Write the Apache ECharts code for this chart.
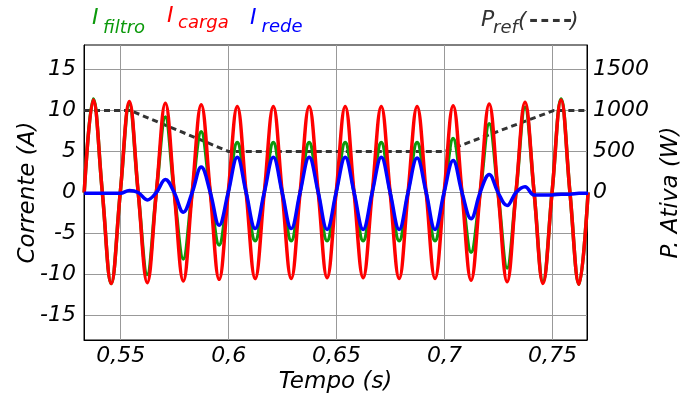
<!DOCTYPE html>
<html>
<head>
<meta charset="utf-8">
<script src="https://cdn.jsdelivr.net/npm/echarts@6/dist/echarts.min.js"></script>
<style>
html, body { margin: 0; padding: 0; background: #fff; }
#chart { width: 683px; height: 394px; }
</style>
</head>
<body>
<div id="chart"></div>
<script>
// instantes (picos, vales e cruzamentos por zero)
const tempo = [
    0.5331, 0.5373, 0.5415, 0.5456, 0.5498, 0.5540, 0.5581, 0.5623, 0.5665, 0.5707,
    0.5748, 0.5790, 0.5831, 0.5873, 0.5915, 0.5956, 0.5998, 0.6040, 0.6081, 0.6123,
    0.6165, 0.6207, 0.6248, 0.6290, 0.6331, 0.6373, 0.6415, 0.6456, 0.6498, 0.6540,
    0.6581, 0.6623, 0.6665, 0.6707, 0.6748, 0.6790, 0.6831, 0.6873, 0.6915, 0.6956,
    0.6998, 0.7040, 0.7081, 0.7123, 0.7165, 0.7207, 0.7248, 0.7290, 0.7331, 0.7373,
    0.7415, 0.7456, 0.7498, 0.7540, 0.7581, 0.7623, 0.7665
];

const iCarga = [
    0, 11.3, 0, -11.1, 0, 11.1, 0, -11.0, 0, 10.9,
    0, -10.8, 0, 10.7, 0, -10.6, 0, 10.5, 0, -10.5,
    0, 10.5, 0, -10.5, 0, 10.5, 0, -10.4, 0, 10.5,
    0, -10.4, 0, 10.5, 0, -10.5, 0, 10.5, 0, -10.5,
    0, 10.6, 0, -10.7, 0, 10.8, 0, -10.9, 0, 11.0,
    0, -11.1, 0, 11.3, 0, -11.2, 0
];

const iFiltro = [
    0, 11.4, 0, -11.1, 0, 10.8, 0, -10.0, 0, 9.2,
    0, -8.1, 0, 7.4, 0, -6.4, 0, 6.1, 0, -5.9,
    0, 6.1, 0, -5.9, 0, 6.1, 0, -5.9, 0, 6.1,
    0, -5.9, 0, 6.1, 0, -5.9, 0, 6.1, 0, -5.9,
    0, 6.6, 0, -7.3, 0, 8.4, 0, -9.2, 0, 10.4,
    0, -10.9, 0, 11.4, 0, -11.2, 0
];

const iRede = [
    -0.1, -0.1, -0.1, -0.1, -0.1, 0.25, 0, -0.9, 0, 1.6,
    0, -2.4, 0, 3.1, 0, -4.0, 0, 4.3, 0, -4.4,
    0, 4.3, 0, -4.4, 0, 4.3, 0, -4.5, 0, 4.3,
    0, -4.5, 0, 4.3, 0, -4.5, 0, 4.2, 0, -4.5,
    0, 3.9, 0, -3.2, 0, 2.2, 0, -1.6, 0, 0.7,
    -0.3, -0.3, -0.3, -0.2, -0.2, -0.1, -0.1
];

// potência de referência (eixo da direita)
const tempoPref = [0.533, 0.5545, 0.6, 0.7, 0.7505, 0.766];
const pRef = [1000, 1000, 500, 500, 1000, 1000];

const xTicks = [0.55, 0.6, 0.65, 0.7, 0.75];
const yTicks = [-15, -10, -5, 0, 5, 10, 15];
const y2Ticks = [0, 500, 1000, 1500];

const FONT = 'DejaVu Sans';
const VERDE = '#0c9a0c';
const VERMELHO = '#ff0000';
const AZUL = '#0000ff';
const CINZA = '#333333';

const pares = (xs, ys) => xs.map((x, i) => [x, ys[i]]);

const labelStyle = {
    color: '#000',
    fontFamily: FONT,
    fontStyle: 'italic',
    fontSize: 22
};

const nameStyle = {
    color: '#000',
    fontFamily: FONT,
    fontStyle: 'italic',
    fontSize: 23
};

const linha = (nome, dados, cor) => ({
    name: nome,
    type: 'line',
    data: dados,
    showSymbol: false,
    smooth: 0.4,
    lineStyle: { color: cor, width: 3.5 },
    itemStyle: { color: cor },
    silent: true
});

// textos da legenda (sem ícones, com subscritos)
const txt = (text, x, y, size, cor, bold) => ({
    type: 'text',
    silent: true,
    style: {
        text: text,
        x: x,
        y: y,
        fill: cor,
        fontFamily: FONT,
        fontStyle: bold ? 'normal' : 'italic',
        fontWeight: bold ? 'bold' : 'normal',
        fontSize: size,
        verticalAlign: 'middle',
        align: 'left'
    }
});

const chart = echarts.init(document.getElementById('chart'), null, { renderer: 'canvas' });

const option = {
    backgroundColor: '#fff',
    animation: false,
    grid: {
        left: 84,
        right: 96,
        top: 45,
        bottom: 54,
        show: true,
        borderColor: '#000',
        borderWidth: 1,
        outerBoundsMode: 'none'
    },
    xAxis: {
        type: 'value',
        min: 0.533,
        max: 0.766,
        name: 'Tempo (s)',
        nameLocation: 'middle',
        nameGap: 31,
        nameTextStyle: nameStyle,
        nameMoveOverlap: false,
        axisLine: { show: true, onZero: false, lineStyle: { color: '#000', width: 1 } },
        axisTick: { show: false, customValues: xTicks },
        axisLabel: {
            ...labelStyle,
            margin: 5,
            customValues: xTicks,
            formatter: v => String(v).replace('.', ',')
        },
        splitLine: { show: true, lineStyle: { color: '#999', width: 1 } }
    },
    yAxis: [
        {
            type: 'value',
            min: -18,
            max: 18,
            name: 'Corrente (A)',
            nameLocation: 'middle',
            nameRotate: 90,
            nameGap: 44,
            nameTextStyle: nameStyle,
            nameMoveOverlap: false,
            axisLine: { show: true, onZero: false, lineStyle: { color: '#000', width: 1 } },
            axisTick: { show: false, customValues: yTicks },
            axisLabel: { ...labelStyle, margin: 8, customValues: yTicks, formatter: v => String(v) },
            splitLine: { show: true, lineStyle: { color: '#999', width: 1 } }
        },
        {
            type: 'value',
            min: -1800,
            max: 1800,
            position: 'right',
            name: 'P. Ativa (W)',
            nameLocation: 'middle',
            nameRotate: 90,
            nameGap: 73,
            nameTextStyle: nameStyle,
            nameMoveOverlap: false,
            axisLine: { show: true, onZero: false, lineStyle: { color: '#000', width: 1 } },
            axisTick: { show: false, customValues: y2Ticks },
            axisLabel: { ...labelStyle, margin: 6, customValues: y2Ticks, formatter: v => String(v) },
            splitLine: { show: false }
        }
    ],
    series: [
        {
            name: 'Pref',
            type: 'line',
            yAxisIndex: 1,
            data: pares(tempoPref, pRef),
            showSymbol: false,
            smooth: false,
            lineStyle: { color: CINZA, width: 3, type: [6, 4] },
            silent: true
        },
        linha('Ifiltro', pares(tempo, iFiltro), VERDE),
        linha('Icarga', pares(tempo, iCarga), VERMELHO),
        linha('Irede', pares(tempo, iRede), AZUL)
    ],
    graphic: [
        txt('I', 92, 18.4, 22, VERDE),
        txt('filtro', 103, 28.1, 18, VERDE),
        txt('I', 167, 16.7, 22, VERMELHO),
        txt('carga', 178, 23, 18, VERMELHO),
        txt('I', 250, 18.1, 22, AZUL),
        txt('rede', 261.5, 27.8, 18, AZUL),
        txt('P', 481, 20.7, 22, CINZA),
        txt('ref', 493, 28.8, 18, CINZA),
        {
            type: 'text',
            silent: true,
            style: {
                text: '(',
                x: 518, y: 21.7, fill: CINZA,
                fontFamily: FONT, fontStyle: 'italic', fontSize: 22,
                verticalAlign: 'middle', align: 'left'
            }
        },
        txt('-\u200a-\u200a-\u200a-', 529, 21.2, 22, CINZA, true),
        {
            type: 'text',
            silent: true,
            style: {
                text: ')',
                x: 570, y: 21.7, fill: CINZA,
                fontFamily: FONT, fontStyle: 'italic', fontSize: 22,
                verticalAlign: 'middle', align: 'left'
            }
        }
    ]
};

chart.setOption(option);
</script>
</body>
</html>
